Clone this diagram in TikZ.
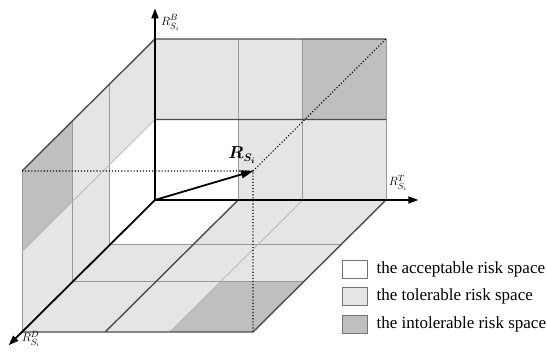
\documentclass[tikz,border=0pt]{standalone}
\usepackage{amsmath,amssymb}
\usepackage{fontspec}
\setmainfont{Liberation Serif}
\usetikzlibrary{positioning,arrows.meta}

\begin{document}
\begin{tikzpicture}[x=1pt, y=1pt,
    thinline/.style={draw=black!40, line width=0.8pt},
    faintline/.style={draw=black!30, line width=0.7pt},
    edgeline/.style={draw=black!70, line width=1.4pt},
    axis/.style={-{Triangle[length=10pt,width=7pt]}, line width=1.8pt},
    guide/.style={dotted, line width=1.1pt},
    axislabel/.style={font=\fontsize{13}{15}\selectfont, inner sep=0pt},
    key/.style={draw=black!55, line width=0.8pt, minimum width=25pt, minimum height=18pt, inner sep=0pt},
    keytext/.style={font=\fontsize{17}{20}\selectfont, inner sep=0pt, anchor=west}]
    \useasboundingbox (0,0) rectangle (547,352);
    % risk space: (T, B, D)
    \begin{scope}[shift={(155pt,152pt)}, x={(231pt,0pt)}, y={(0pt,161pt)}, z={(-133pt,-132pt)}]
        \coordinate (O) at (0,0,0);
        \coordinate (R) at (1,1,1);
        \coordinate (Bend) at (0,1.19,0);
        \coordinate (Tend) at (1.14,0,0);
        \coordinate (Dend) at (0,0,1.1);
        % back wall
        \fill[gray!20] (0,0,0) -- (1,0,0) -- (1,1,0) -- (0,1,0) -- cycle;
        \fill[white] (0,0,0) -- (0.36,0,0) -- (0.36,0.5,0) -- (0,0.5,0) -- cycle;
        \fill[gray!50] (0.64,0.5,0) -- (1,0.5,0) -- (1,1,0) -- (0.64,1,0) -- cycle;
        % left wall
        \fill[gray!20] (0,0,0) -- (0,1,0) -- (0,1,1) -- (0,0,1) -- cycle;
        \fill[white] (0,0,0) -- (0,0.5,0) -- (0,0.5,0.34) -- (0,0,0.34) -- cycle;
        \fill[gray!50] (0,0.5,0.62) -- (0,1,0.62) -- (0,1,1) -- (0,0.5,1) -- cycle;
        % floor
        \fill[gray!20] (0,0,0) -- (1,0,0) -- (1,0,1) -- (0,0,1) -- cycle;
        \fill[white] (0,0,0) -- (0.36,0,0) -- (0.36,0,0.34) -- (0,0,0.34) -- cycle;
        \fill[gray!50] (0.64,0,0.62) -- (1,0,0.62) -- (1,0,1) -- (0.64,0,1) -- cycle;
        % grid lines
        \draw[thinline] (0.36,0,0) -- (0.36,1,0) (0.64,0,0) -- (0.64,1,0) (1,0,0) -- (1,1,0);
        \draw[thinline] (0,0,0.34) -- (0,1,0.34) (0,0,0.62) -- (0,1,0.62) (0,0,1) -- (0,1,1);
        \draw[thinline] (0,0,0.34) -- (1,0,0.34) (0,0,0.62) -- (1,0,0.62);
        \draw[faintline] (0,0.5,0) -- (0,0.5,1) (0.64,0,0) -- (0.64,0,1);
        \draw[edgeline] (0,1,1) -- (0,1,0) -- (1,1,0) (0,0.5,0) -- (1,0.5,0);
        \draw[edgeline] (0,0,1) -- (1,0,1) -- (1,0,0) (0.36,0,0) -- (0.36,0,1);
        % projections of R
        \draw[guide] (0,1,1) -- (R) -- (1,0,1) (R) -- (1,1,0);
        % axes
        \draw[axis] (O) -- (Bend);
        \draw[axis] (O) -- (Tend);
        \draw[axis] (O) -- (Dend);
        \draw[-{Triangle[length=12pt,width=8pt]}, line width=1.8pt] (O) -- (R);
    \end{scope}
    \node[axislabel, right=6pt of Bend, yshift=-14pt] (lblB) {$R^{B}_{S_i}$};
    \node[axislabel] (lblT) at (398,169) {$R^{T}_{S_i}$};
    \node[axislabel] (lblD) at (31,13) {$R^{D}_{S_i}$};
    \node[font=\fontsize{16}{18}\selectfont, inner sep=0pt] (lblR) at (242,197) {$\boldsymbol{R_{S_i}}$};
    % legend
    \node[key, fill=white] (k1) at (354.5,82.5) {};
    \node[key, fill=gray!20, below=8.5pt of k1] (k2) {};
    \node[key, fill=gray!50, below=8.5pt of k2] (k3) {};
    \node[keytext, right=9pt of k1] (t1) {the acceptable risk space};
    \node[keytext, right=9pt of k2] (t2) {the tolerable risk space};
    \node[keytext, right=9pt of k3] (t3) {the intolerable risk space};
\end{tikzpicture}
\end{document}
